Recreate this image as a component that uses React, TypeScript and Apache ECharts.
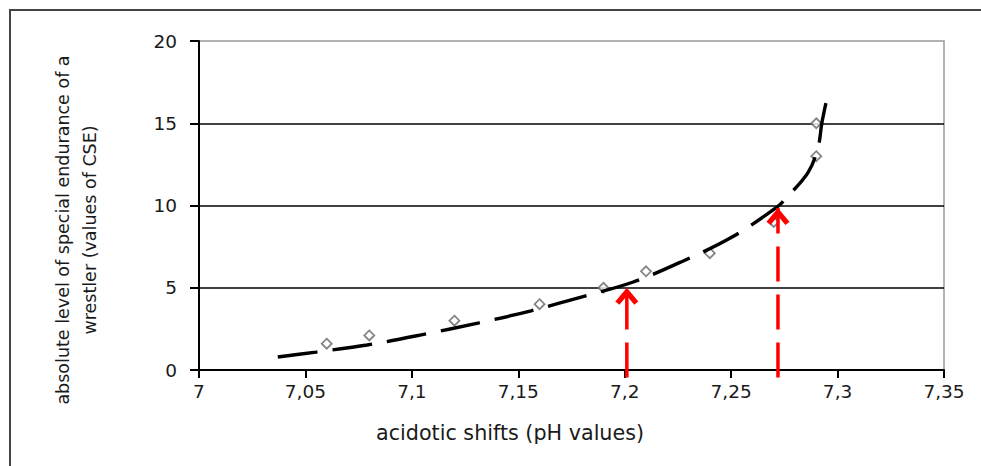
import React, { useEffect, useRef } from "react";
import * as echarts from "echarts";

// Observed data points (pH, CSE level)
const pointsX = [7.06, 7.08, 7.12, 7.16, 7.19, 7.21, 7.24, 7.27, 7.29, 7.29];
const pointsY = [1.6, 2.1, 3.0, 4.0, 5.0, 6.0, 7.1, 9.0, 13.0, 15.0];

// Trend curve
const trendX = [7.037, 7.055, 7.079, 7.105, 7.131, 7.156, 7.18, 7.204, 7.227, 7.25, 7.2715, 7.2762, 7.2861, 7.2908, 7.2926, 7.295];
const trendY = [0.79, 1.09, 1.52, 2.15, 2.85, 3.6, 4.45, 5.35, 6.6, 8.05, 9.9, 10.5, 12.0, 13.5, 15.0, 16.5];

// Red arrows: pH position, arrow tip level
const arrowX = [7.201, 7.272];
const arrowTop = [5.0, 9.85];
const arrowBase = -0.45;

const yTicks = { min: 0, max: 20, interval: 5 };
const xTicks = { min: 7, max: 7.35, interval: 0.05 };

const xTitle = "acidotic shifts (pH values)";
const yTitleLines = ["absolute level of special endurance of a", "wrestler (values of CSE)"];

const FONT = "DejaVu Sans";
const chevron = "path://M0,11 L10,0 L20,11 L16.5,13.5 L10,6.5 L3.5,13.5 Z";

export default function App() {
  const ref = useRef<HTMLDivElement>(null);
  useEffect(() => {
    if (!ref.current) return;
    const chart = echarts.init(ref.current, null, { renderer: "svg" });
    const fmt = (v: number) => String(Math.round(v * 100) / 100).replace(".", ",");
    const arrowSeries = arrowX.map((x, i) => ({
      type: "line",
      data: [
        [x, arrowBase],
        [x, arrowTop[i]],
      ],
      clip: false,
      z: 5,
      symbol: (_v: any, p: any) => (p.dataIndex === 1 ? chevron : "none"),
      symbolSize: [23, 17],
      symbolOffset: [0, "50%"],
      showSymbol: true,
      itemStyle: { color: "#ff0000" },
      lineStyle: { color: "#ff0000", width: 3.5, type: [35, 13], cap: "butt" },
      silent: true,
    }));
    chart.setOption({
      animation: false,
      grid: {
        left: 199,
        right: 37,
        top: 41,
        bottom: 96,
        show: true,
        borderColor: "#9a9a9a",
        borderWidth: 1.5,
        backgroundColor: "transparent",
      },
      xAxis: {
        type: "value",
        min: xTicks.min,
        max: xTicks.max,
        interval: xTicks.interval,
        axisLine: { show: true, lineStyle: { color: "#000", width: 2 } },
        axisTick: { show: true, inside: false, length: 8, lineStyle: { color: "#000", width: 2 } },
        axisLabel: {
          formatter: fmt,
          color: "#1a1a1a",
          fontFamily: FONT,
          fontSize: 18.5,
          margin: 12,
          showMaxLabel: true,
          showMinLabel: true,
        },
        splitLine: { show: false },
      },
      yAxis: {
        type: "value",
        min: yTicks.min,
        max: yTicks.max,
        interval: yTicks.interval,
        axisLine: { show: true, lineStyle: { color: "#000", width: 2 } },
        axisTick: { show: true, inside: false, length: 9, lineStyle: { color: "#000", width: 2 } },
        axisLabel: {
          formatter: fmt,
          color: "#1a1a1a",
          fontFamily: FONT,
          fontSize: 18.5,
          margin: 22,
        },
        splitLine: {
          show: true,
          showMinLine: false,
          showMaxLine: false,
          lineStyle: { color: "#000", width: 1.5 },
        },
      },
      graphic: [
        {
          type: "rect",
          shape: { x: 10, y: 10, width: 1100, height: 600 },
          style: { fill: "none", stroke: "#444", lineWidth: 2 },
          silent: true,
          z: -10,
        },
        {
          type: "text",
          x: 510,
          y: 433,
          style: {
            text: xTitle,
            font: `20.7px "${FONT}"`,
            fill: "#1a1a1a",
            textAlign: "center",
            textVerticalAlign: "middle",
          },
        },
        {
          type: "text",
          x: 76,
          y: 230,
          rotation: Math.PI / 2,
          style: {
            text: yTitleLines.join("\n"),
            font: `17.5px "${FONT}"`,
            lineHeight: 27,
            fill: "#1a1a1a",
            textAlign: "center",
            textVerticalAlign: "middle",
          },
        },
      ],
      series: [
        {
          type: "scatter",
          data: pointsX.map((x, i) => [x, pointsY[i]]),
          symbol: "diamond",
          symbolSize: 10,
          itemStyle: { color: "#ffffff", borderColor: "#666", borderWidth: 1.8 },
          z: 2,
          silent: true,
        },
        {
          type: "line",
          data: trendX.map((x, i) => [x, trendY[i]]),
          showSymbol: false,
          symbol: "none",
          smooth: 0.35,
          lineStyle: { color: "#000", width: 3.4, type: [40, 15], cap: "butt" },
          z: 3,
          silent: true,
        },
        ...arrowSeries,
      ],
    });
    return () => chart.dispose();
  }, []);
  return (
    <div
      ref={ref}
      style={{ position: "absolute", left: 0, top: 0, width: 981, height: 466, background: "#fff" }}
    />
  );
}
